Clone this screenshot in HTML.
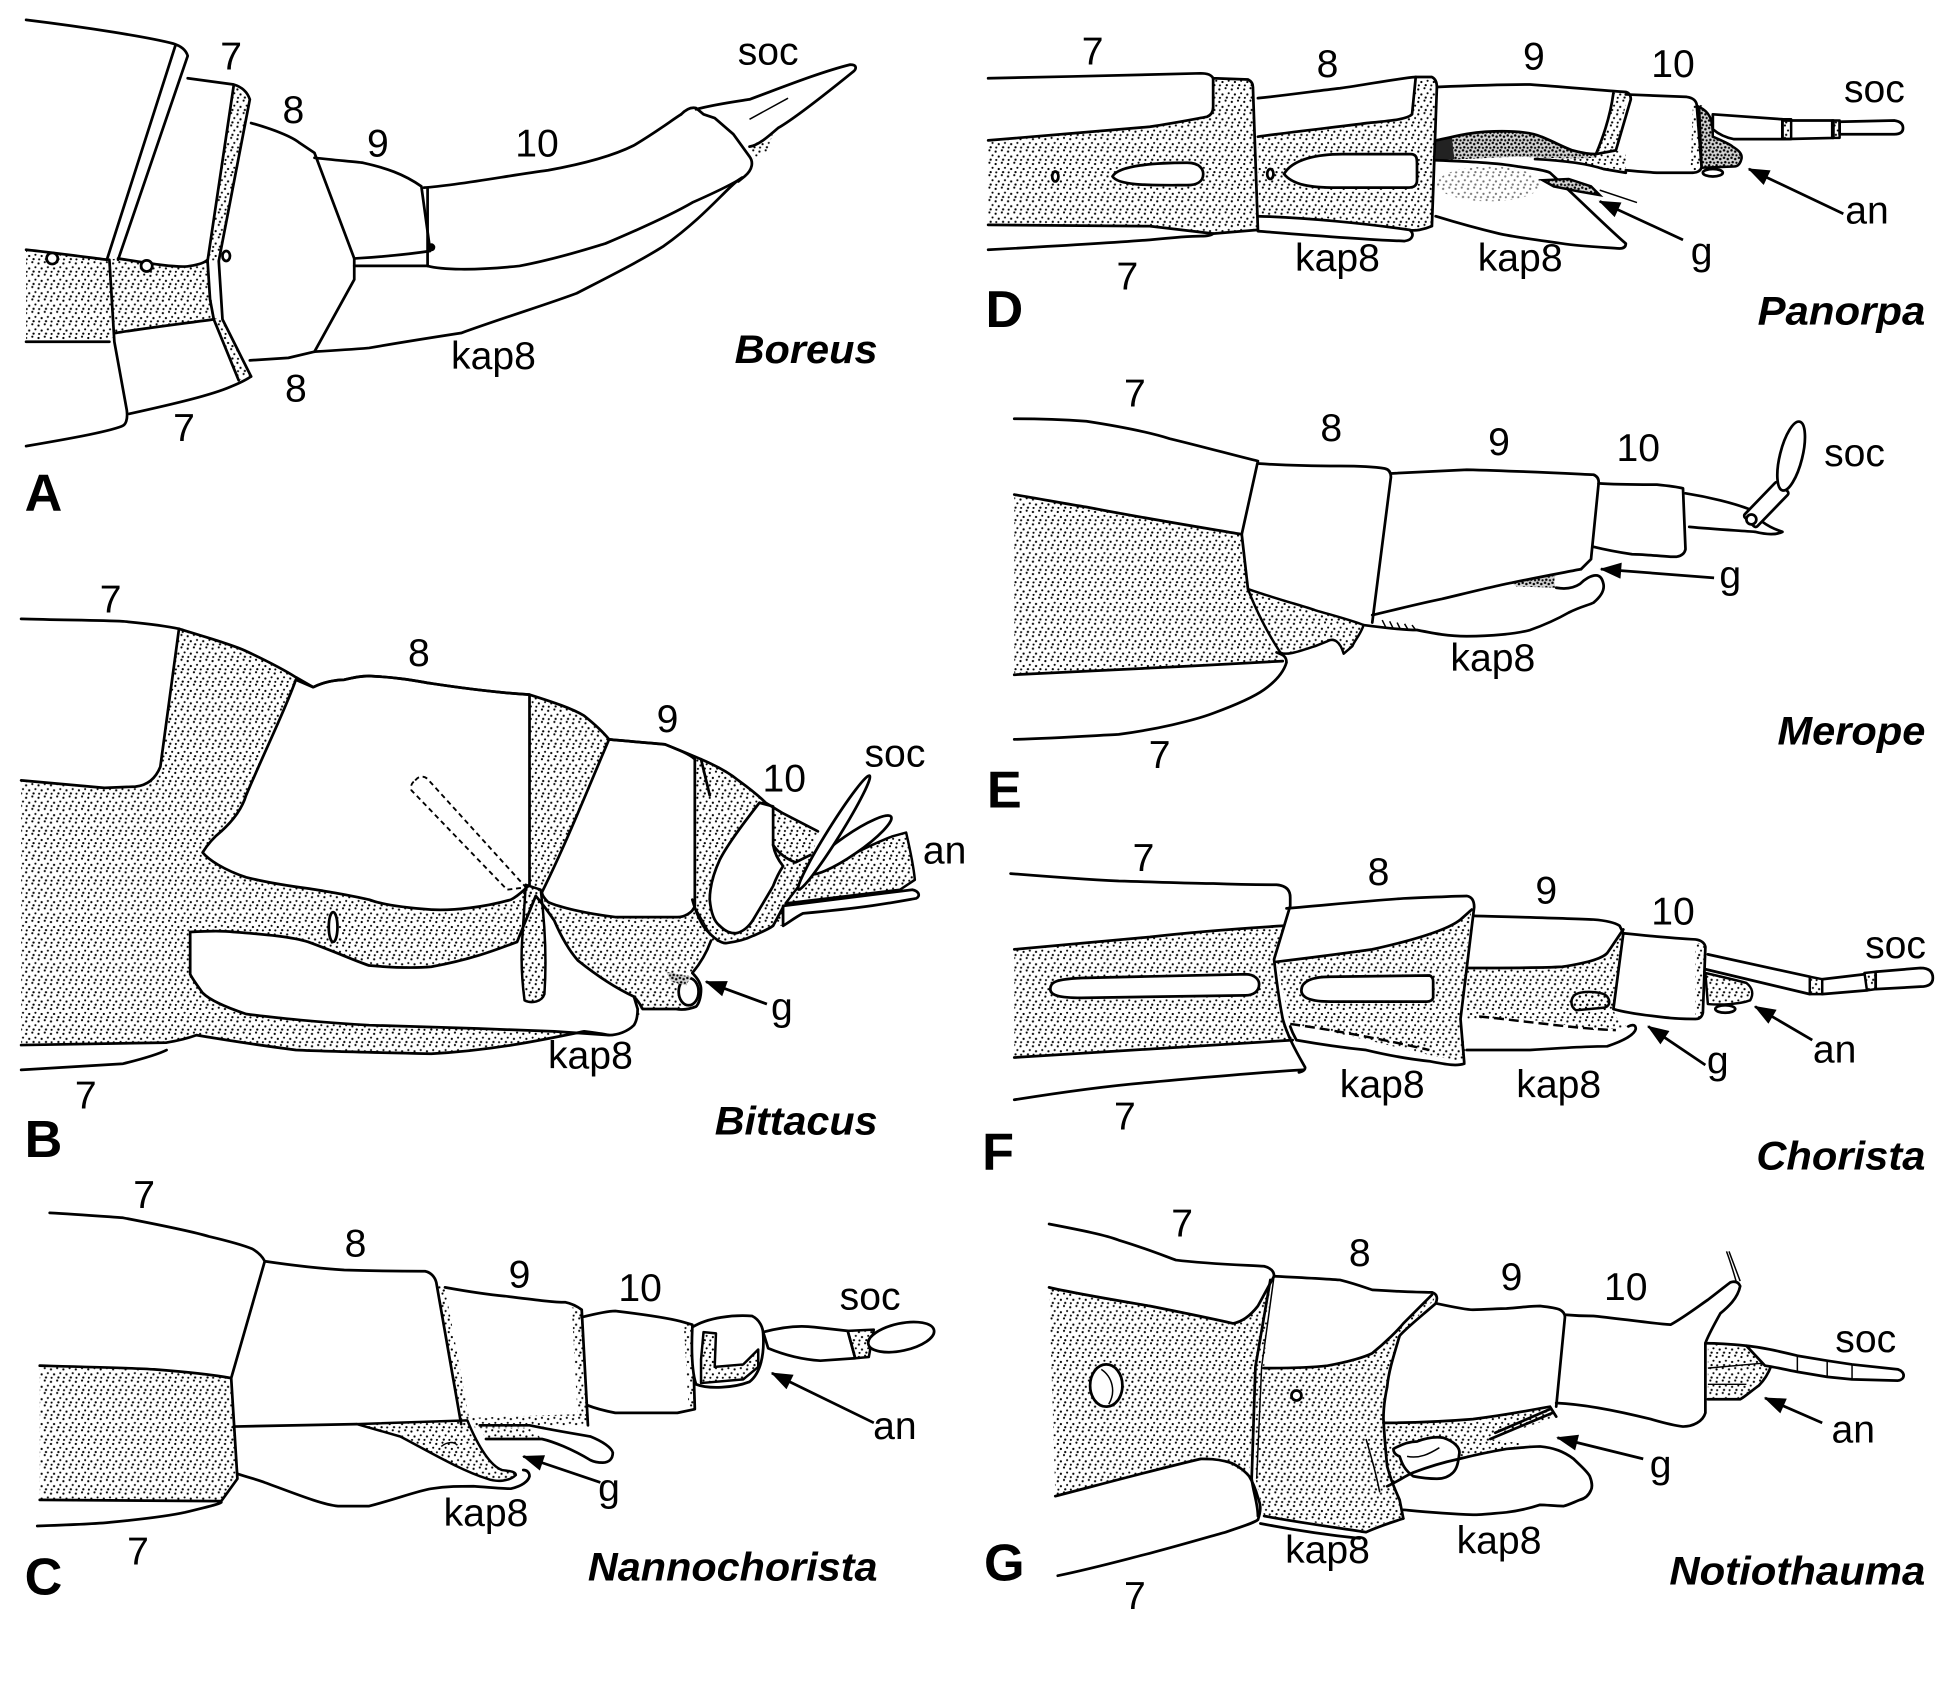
<!DOCTYPE html>
<html><head><meta charset="utf-8"><style>
html,body{margin:0;padding:0;background:#fff}
svg{display:block}
.o{fill:none;stroke:#000;stroke-width:2.2;stroke-linejoin:round;stroke-linecap:round}
.th{fill:none;stroke:#000;stroke-width:1.2}
.w{fill:#fff;stroke:#000;stroke-width:2.2;stroke-linejoin:round}
.wf{fill:#fff}
.s{fill:url(#st)}
.so{fill:url(#st);stroke:#000;stroke-width:2;stroke-linejoin:round}
.d{fill:url(#st2)}
.do{fill:url(#st2);stroke:#000;stroke-width:2}
.ar{stroke:#000;stroke-width:2.2;marker-end:url(#ah)}
text{font-family:"Liberation Sans",Arial,sans-serif;fill:#000}
.t{font-size:31.5px;text-anchor:middle}
.n{font-size:32px;font-weight:bold;font-style:italic;text-anchor:end}
.L{font-size:42px;font-weight:bold;text-anchor:middle}
</style></head><body>
<svg xmlns="http://www.w3.org/2000/svg" width="1949" height="1690" viewBox="0 0 1568 1360" preserveAspectRatio="none">
<defs>
<pattern id="st" width="10" height="10" patternUnits="userSpaceOnUse">
<circle cx="1" cy="2" r=".9"/><circle cx="6" cy="1" r=".85"/><circle cx="3.5" cy="6" r=".9"/><circle cx="8.5" cy="5" r=".85"/><circle cx="1.5" cy="8.7" r=".85"/><circle cx="7" cy="8.5" r=".9"/>
</pattern>
<pattern id="st2" width="6" height="6" patternUnits="userSpaceOnUse">
<rect width="6" height="6" fill="#d4d4d4"/>
<circle cx="1" cy="1" r="1"/><circle cx="4" cy="2" r="1"/><circle cx="2" cy="4.5" r="1"/><circle cx="5" cy="5" r=".9"/>
</pattern>
<marker id="ah" viewBox="0 0 16 12" refX="15" refY="6" markerWidth="18" markerHeight="13" markerUnits="userSpaceOnUse" orient="auto">
<path d="M0,0 L16,6 L0,12 Z"/>
</marker>
</defs>
<rect width="1568" height="1360" fill="#fff"/>

<!-- ================= A : Boreus ================= -->
<g>
<path class="s" d="M21,201 C40,203 70,207 86,209 L95,208 C120,212 145,216 153,214 C160,213 165,211 167,209 L172,257 C150,260 110,265 93,268 L88,275 L21,275 Z"/>
<path class="s" d="M188,68 L201,78 L176,210 L167,210 Z"/>
<path class="s" d="M172,256 L179,257 L202,303 L192,306 Z"/>
<path class="s" d="M603,118 L622,107 L617,122 L606,128 Z"/>
<path class="o" d="M21,16 C70,22 120,30 139,35 Q149,38 151,45 L95,209"/>
<path class="o" d="M141,37 L86,209"/>
<path class="o" d="M88,209 L92,275 L102,330 C103,338 101,342 98,343 C85,348 50,354 21,359"/>
<path class="o" d="M21,201 C40,203 70,207 86,209"/>
<path class="o" d="M95,208 C120,212 145,216 153,214 C160,213 165,211 167,209"/>
<path class="o" d="M21,275 L88,275"/>
<path class="o" d="M93,268 C110,265 150,260 172,257"/>
<path class="o" d="M151,63 L188,68 Q198,71 201,80 L176,210 L179,257 L202,303"/>
<path class="o" d="M188,69 L167,210 L169,241 L172,257 L192,306"/>
<path class="o" d="M104,333 C140,325 170,318 186,311 Q196,307 202,303"/>
<path class="o" d="M201,290 L232,288 L253,283"/>
<path class="o" d="M202,99 C220,104 235,110 241,115 L253,123 L285,208 L285,225 L253,283"/>
<path class="o" d="M253,127 C270,129 285,130 292,131 C310,135 325,140 339,150 L346,201"/>
<path class="o" d="M285,208 C300,207 320,206 346,202"/>
<circle cx="347" cy="199" r="3.2"/>
<path class="o" d="M285,214 L344,214"/>
<path class="o" d="M341,151 C370,149 410,141 441,137 C480,130 500,122 510,117 C530,105 540,97 548,92"/>
<path class="o" d="M344,152 L344,214"/>
<path class="o" d="M344,214 C355,217 380,218 418,214 C450,208 480,198 487,196 C520,182 545,170 557,163 C575,155 590,148 597,143"/>
<path class="o" d="M253,283 C270,282 285,281 297,280 C320,276 345,272 371,268 C410,254 440,245 464,236 C495,220 515,210 534,198 C555,183 570,168 580,158 C588,150 592,146 597,143"/>
<path class="o" d="M548,92 C552,88 556,86 560,87 L566,92 L575,95 L590,108 L603,126 C606,130 606,136 599,142 L594,146"/>
<path class="o" d="M560,88 C575,84 590,82 603,80 C630,70 660,58 684,52 C690,52 689,56 686,58 C665,75 640,95 626,103 C618,110 610,117 603,118"/>
<path class="th" d="M603,96 L634,79"/>
<circle class="w" cx="42" cy="208" r="4.5" stroke-width="1.6"/>
<circle class="w" cx="118" cy="214" r="4.5" stroke-width="1.6"/>
<ellipse class="w" cx="182" cy="206" rx="3" ry="4" stroke-width="1.5"/>
<text class="t" x="186" y="56">7</text>
<text class="t" x="236" y="99">8</text>
<text class="t" x="304" y="126">9</text>
<text class="t" x="432" y="126">10</text>
<text class="t" x="618" y="52">soc</text>
<text class="t" x="397" y="297">kap8</text>
<text class="t" x="238" y="323">8</text>
<text class="t" x="148" y="355">7</text>
<text class="n" x="706" y="292" textLength="115" lengthAdjust="spacingAndGlyphs">Boreus</text>
<text class="L" x="35" y="411">A</text>
</g>

<!-- ================= B : Bittacus ================= -->
<g>
<path class="s" d="M17,628 L84,634 Q105,634 109,633 L129,617 L144,507 C170,514 190,520 198,524 C215,532 230,540 238,545 L252,553 C260,549 270,547 277,547 C285,545 290,544 297,544 C320,545 335,548 347,550 C380,555 410,558 426,559 C445,565 460,570 470,576 C480,584 486,590 490,595 C510,597 525,598 535,599 C545,603 555,607 564,611 C578,617 588,623 594,628 C605,636 612,642 616,646 L629,654 L658,669 L651,702 L632,727 L630,745 L622,745 C618,748 613,750 606,753 C600,756 592,758 584,759 C578,758 574,758 572,757 C568,768 562,777 557,783 C562,788 564,792 564,796 C564,803 562,808 560,810 L544,812 L517,812 L510,825 L490,833 C480,832 475,831 470,830 C440,836 400,845 347,848 C300,847 260,846 238,845 C200,840 170,835 158,833 C150,836 140,838 134,839 L17,841 Z"/>
<path class="wf" d="M17,498 C50,499 80,499 99,500 C120,502 135,504 144,506 L129,617 C125,627 118,632 109,633 L84,634 L17,628 Z"/>
<path class="w" d="M238,547 L252,553 C260,549 270,547 277,547 C285,545 290,544 297,544 C320,545 335,548 347,550 C380,555 410,558 426,559 L426,712 C420,718 415,722 411,724 C390,730 365,733 347,732 C320,730 305,727 297,724 C275,719 260,717 248,715 C225,712 210,709 198,706 C180,700 168,692 163,686 C168,678 173,673 178,669 C188,660 195,650 198,640 C215,600 230,570 238,547 Z"/>
<path class="w" d="M153,750 C170,749 180,749 188,750 C215,752 235,754 248,758 C270,766 285,773 297,777 C320,779 335,779 347,778 C380,772 400,764 416,758 L431,721 C437,728 442,735 446,741 C452,755 458,765 465,773 C480,785 495,795 510,802 L513,812 C513,818 512,822 510,825 C505,830 497,833 490,833 C475,832 460,831 446,830 C400,828 330,826 297,825 C260,823 220,819 198,816 C180,810 168,804 163,799 C158,792 155,788 153,784 Z"/>
<path class="so" d="M423,712 L435,716 C438,740 440,770 438,800 C436,806 428,808 422,805 C420,790 419,775 420,758 Z"/>
<path class="w" d="M490,595 C510,597 525,598 535,599 C545,603 555,607 559,611 L559,729 C557,735 550,738 545,738 L495,738 C470,735 450,730 441,726 C438,723 436,720 436,718 C455,680 475,630 490,595 Z"/>
<path class="w" d="M611,646 C600,660 585,680 579,692 C573,705 571,715 571,724 C572,735 575,742 579,745 C584,750 588,751 592,751 C598,750 603,745 606,740 C612,730 618,720 622,713 C625,705 628,700 630,697 C626,692 623,686 622,680 L622,649 Z"/>
<path class="o" d="M622,680 C626,686 632,691 640,694 L652,688"/>
<path class="so" d="M651,702 C665,697 675,693 683,689 C695,683 705,678 718,673 L729,670 C732,683 735,697 736,708 L724,716 L632,727 Z"/>
<path class="w" d="M630,729 L734,716 C739,717 741,721 737,723 C720,726 700,730 646,735 C640,738 635,742 630,745 Z"/>
<ellipse class="w" cx="684" cy="680" rx="40" ry="8" transform="rotate(-34.7 684 680)"/>
<ellipse class="w" cx="671" cy="670" rx="54" ry="5" transform="rotate(-58 671 670)"/>
<path d="M334,628 C337,624 342,624 345,628 L423,714 L408,716 L331,636 C330,633 331,630 334,628 Z" fill="none" stroke="#000" stroke-width="1.5" stroke-dasharray="4 3"/>
<ellipse class="w" cx="268" cy="746" rx="3.5" ry="12"/>
<path class="o" d="M17,498 C50,499 80,499 99,500 C120,502 135,504 144,506 C170,514 190,520 198,524 C215,532 230,540 238,545 L252,553 C260,549 270,547 277,547 C285,545 290,544 297,544 C320,545 335,548 347,550 C380,555 410,558 426,559 C445,565 460,570 470,576 C480,584 486,590 490,595 C510,597 525,598 535,599 C545,603 555,607 564,611 C578,617 588,623 594,628 C605,636 612,642 616,646 L629,654 L658,669"/>
<path class="o" d="M144,506 L129,617 C125,627 118,632 109,633 L84,634 L17,628"/>
<path class="o" d="M17,841 L134,839 C140,838 150,836 158,833 C170,835 200,840 238,845 C260,846 300,847 347,848 C400,845 440,836 470,830 C478,831 485,832 490,833"/>
<path class="o" d="M17,861 C50,859 85,857 99,856 C115,852 128,848 134,845"/>
<path class="o" d="M557,724 C560,735 565,745 568,748 C574,755 580,759 584,759 C592,758 600,756 606,753 C613,750 618,748 622,745 L630,730"/>
<path class="o" d="M572,757 C568,768 562,777 557,783 C562,788 564,792 564,796 C564,803 562,808 560,810 C555,812 550,813 544,812 L517,812 C515,808 513,805 510,802"/>
<path class="o" d="M564,611 L571,640"/>
<path class="th" d="M558,728 L571,751" stroke-width="2"/>
<ellipse class="w" cx="554" cy="798" rx="8" ry="11"/>
<path class="d" d="M536,782 L556,786 L552,793 L540,790 Z"/>
<line class="ar" x1="617" y1="808" x2="568" y2="790"/>
<text class="t" x="89" y="493">7</text>
<text class="t" x="337" y="536">8</text>
<text class="t" x="537" y="589">9</text>
<text class="t" x="631" y="637">10</text>
<text class="t" x="720" y="617">soc</text>
<text class="t" x="760" y="695">an</text>
<text class="t" x="629" y="821">g</text>
<text class="t" x="475" y="860">kap8</text>
<text class="t" x="69" y="892">7</text>
<text class="L" x="35" y="931">B</text>
<text class="n" x="706" y="913" textLength="131" lengthAdjust="spacingAndGlyphs">Bittacus</text>
</g>

<!-- ================= C : Nannochorista ================= -->
<g>
<path class="s" d="M32,1099 C70,1100 110,1101 124,1102 C150,1104 175,1107 186,1109 L191,1190 L178,1208 L32,1207 Z"/>
<path class="so" d="M287,1146 L376,1143 C385,1165 395,1180 404,1183 C410,1184 415,1184 415,1187 C410,1192 400,1193 392,1190 C370,1183 345,1168 322,1156 Z"/>
<path class="s" d="M351,1032 L358,1036 L378,1144 L371,1146 Z"/>
<path class="s" d="M460,1052 L468,1054 L473,1147 L465,1147 Z"/>
<path class="s" d="M550,1064 L557,1066 L559,1134 L554,1134 Z"/>
<path class="s" d="M378,1141 L465,1138 L466,1147 L382,1149 Z"/>
<path class="s" d="M386,1149 L426,1149 L436,1158 L391,1158 Z"/>
<path class="o" d="M40,976 C60,977 85,979 99,980 C130,986 155,991 168,995 C185,999 198,1003 203,1005 C208,1008 211,1011 213,1015 L186,1109 L191,1190 L178,1208"/>
<path class="o" d="M32,1099 C70,1100 110,1101 124,1102 C150,1104 175,1107 186,1109"/>
<path class="o" d="M32,1207 L178,1208"/>
<path class="o" d="M30,1228 C60,1227 80,1226 89,1225 C120,1222 140,1219 149,1217 C165,1213 175,1211 178,1209"/>
<path class="o" d="M213,1015 C240,1019 260,1021 277,1022 C310,1023 330,1023 342,1023 C347,1024 350,1028 351,1032 L371,1146"/>
<path class="o" d="M188,1148 L287,1146"/>
<path class="o" d="M191,1186 C200,1189 208,1191 213,1193 C240,1203 260,1211 272,1212 L297,1212 C320,1206 335,1200 347,1198 C360,1196 370,1196 381,1196 C395,1197 405,1198 411,1198 C420,1196 425,1192 426,1188 C426,1185 424,1183 421,1183"/>
<path class="o" d="M358,1036 C380,1040 395,1042 406,1043 C430,1046 445,1048 455,1048 C460,1049 464,1051 468,1054 L473,1147"/>
<path class="o" d="M386,1147 L426,1147 C450,1152 470,1155 475,1156 C485,1160 492,1165 493,1169 C493,1174 490,1177 485,1177 C480,1177 477,1176 475,1175 C460,1166 445,1160 436,1158 L391,1158"/>
<path class="o" d="M468,1060 C480,1057 490,1055 495,1055 C520,1058 540,1061 550,1064 L557,1066 L559,1134 L545,1137 L495,1137 C485,1135 478,1133 473,1131"/>
<path class="w" d="M557,1068 C570,1060 590,1058 605,1059 C611,1062 614,1068 614,1074 C615,1090 612,1105 603,1112 C590,1117 570,1118 560,1114 C557,1105 556,1090 557,1068 Z"/>
<path class="so" d="M564,1094 L566,1072 L576,1073 L575,1100 L598,1098 L610,1086 L610,1100 L598,1110 L564,1113 Z"/>
<path class="w" d="M614,1072 C625,1069 640,1066 655,1068 L682,1071 L688,1093 L660,1095 C645,1094 630,1090 618,1085 Z"/>
<path class="so" d="M682,1071 L703,1070 L699,1092 L688,1093 Z"/>
<ellipse class="w" cx="725" cy="1076" rx="27" ry="11" transform="rotate(-12 725 1076)"/>
<path class="th" d="M355,1164 C360,1160 365,1160 368,1163"/>
<line class="ar" x1="703" y1="1145" x2="621" y2="1105"/>
<line class="ar" x1="483" y1="1193" x2="421" y2="1172"/>
<text class="t" x="116" y="972">7</text>
<text class="t" x="286" y="1011">8</text>
<text class="t" x="418" y="1036">9</text>
<text class="t" x="515" y="1047">10</text>
<text class="t" x="700" y="1054">soc</text>
<text class="t" x="720" y="1158">an</text>
<text class="t" x="490" y="1208">g</text>
<text class="t" x="391" y="1228">kap8</text>
<text class="t" x="111" y="1259">7</text>
<text class="L" x="35" y="1283">C</text>
<text class="n" x="706" y="1272" textLength="233" lengthAdjust="spacingAndGlyphs">Nannochorista</text>
</g>

<!-- ================= D : Panorpa ================= -->
<g>
<path class="s" d="M795,113 C840,109 880,106 925,102 C945,99 960,96 971,94 Q976,92 976,86 L976,62 L1004,64 Q1008,66 1008,70 L1012,185 L976,188 L925,182 L795,181 Z"/>
<path class="s" d="M1012,110 C1040,106 1078,102 1100,99 C1120,97 1132,96 1136,92 L1139,62 L1152,62 Q1156,64 1156,70 L1152,182 C1145,185 1138,186 1134,185 C1100,180 1050,175 1012,174 Z"/>
<path class="s" d="M1298,75 L1310,75 L1300,121 L1284,124 C1292,105 1296,90 1298,75 Z"/>
<path class="s" d="M1235,127 L1284,124 L1300,121 L1308,124 L1308,139 L1290,136 C1275,131 1255,129 1235,128 Z"/>
<path class="s" d="M1362,82 L1372,86 L1369,138 L1360,140 Z"/>
<path class="d" d="M1155,113 C1170,110 1180,107 1195,106 C1215,105 1231,106 1240,110 C1250,114 1257,118 1265,121 C1272,123 1278,124 1284,124 L1282,127 C1260,128 1240,127 1221,126 C1200,127 1175,128 1155,129 Z"/>
<path d="M1155,112 L1168,110 L1170,128 L1155,129 Z" fill="#222"/>
<ellipse class="s" cx="1198" cy="148" rx="42" ry="14" opacity=".55"/>
<path class="o" d="M795,63 C850,62 920,60 966,59 C972,59 975,61 976,63 L1004,64 Q1008,66 1008,70 L1012,185"/>
<path class="o" d="M976,63 L976,86 Q976,92 971,94 C960,96 945,99 925,102 C880,106 840,109 795,113"/>
<path class="o" d="M795,181 L925,182 L976,188 L1012,185"/>
<path class="o" d="M795,201 C850,198 900,195 925,193 C945,191 960,190 966,190 C972,190 975,189 976,188"/>
<path class="o" d="M1012,79 C1040,76 1060,73 1078,71 C1100,68 1125,63 1139,62 L1152,62 Q1156,64 1156,70 L1152,182 C1145,185 1138,186 1134,185"/>
<path class="o" d="M1139,62 L1136,92 C1132,96 1120,97 1100,99 C1078,102 1040,106 1012,110"/>
<path class="o" d="M1012,174 C1050,175 1100,180 1134,185 C1138,188 1137,193 1130,194 C1100,193 1050,189 1012,186"/>
<path class="w" d="M895,142 C900,133 930,131 955,131 C966,131 968,137 968,140 C968,146 963,149 955,149 C930,149 900,150 895,142 Z"/>
<path class="w" d="M1033,140 C1040,128 1060,124 1080,124 L1135,124 C1140,124 1140,128 1140,132 L1140,145 C1140,150 1137,151 1132,151 L1075,151 C1055,151 1040,149 1033,140 Z"/>
<ellipse class="w" cx="849" cy="142" rx="2.5" ry="4" stroke-width="1.4"/>
<ellipse class="w" cx="1022" cy="140" rx="2.5" ry="4" stroke-width="1.4"/>
<path class="o" d="M1156,70 C1180,69 1210,68 1231,68 C1260,70 1290,73 1308,74 Q1312,75 1312,80 L1300,121 L1284,124"/>
<path class="o" d="M1298,75 C1296,90 1292,105 1284,124"/>
<path class="o" d="M1155,113 C1170,110 1180,107 1195,106 C1215,105 1231,106 1240,110 C1250,114 1257,118 1265,121 C1272,123 1278,124 1284,124"/>
<path class="o" d="M1235,128 C1255,129 1275,131 1290,136 L1308,139"/>
<path class="o" d="M1155,129 C1180,130 1205,131 1221,134 C1235,136 1243,137 1247,139 C1270,160 1295,185 1308,196 C1308,199 1306,200 1303,200 C1290,199 1270,198 1257,196 C1235,193 1215,190 1206,188 C1185,183 1168,178 1155,174"/>
<path class="do" d="M1241,145 L1262,144 L1280,150 L1287,157 L1270,154 L1250,150 Z" stroke-width="1.2"/>
<path class="th" d="M1287,153 L1317,163"/>
<path class="o" d="M1308,76 L1357,78 Q1364,79 1365,84 L1369,135 Q1367,139 1362,139 L1333,139 Q1318,138 1308,137"/>
<path class="do" d="M1367,86 C1375,90 1378,95 1378,110 C1385,113 1392,116 1394,118 C1399,121 1402,124 1401,128 C1400,132 1398,134 1395,134 L1369,135 Z"/>
<ellipse class="w" cx="1378" cy="139" rx="8" ry="3" stroke-width="1.5"/>
<path class="w" d="M1378,92 L1434,96 L1434,112 L1395,112 Q1385,110 1378,104 Z"/>
<path class="w" d="M1434,97 L1475,97 L1475,111 L1434,112 Z"/>
<path class="w" d="M1480,98 L1524,97 Q1531,98 1531,103 Q1531,108 1524,108 L1480,108 Z"/>
<rect class="so" x="1434" y="96" width="7" height="16" stroke-width="1.2"/>
<rect class="so" x="1474" y="97" width="6" height="14" stroke-width="1.2"/>
<line class="ar" x1="1483" y1="172" x2="1407" y2="136"/>
<line class="ar" x1="1354" y1="193" x2="1287" y2="162"/>
<text class="t" x="879" y="52">7</text>
<text class="t" x="1068" y="62">8</text>
<text class="t" x="1234" y="56">9</text>
<text class="t" x="1346" y="62">10</text>
<text class="t" x="1508" y="82">soc</text>
<text class="t" x="1502" y="180">an</text>
<text class="t" x="1369" y="213">g</text>
<text class="t" x="1076" y="218">kap8</text>
<text class="t" x="1223" y="218">kap8</text>
<text class="t" x="907" y="233">7</text>
<text class="L" x="808" y="263">D</text>
<text class="n" x="1549" y="261" textLength="135" lengthAdjust="spacingAndGlyphs">Panorpa</text>
</g>

<!-- ================= E : Merope ================= -->
<g>
<path class="s" d="M816,398 C840,402 860,406 874,408 C920,417 970,425 999,430 L1004,474 C1010,495 1020,515 1027,525 L1032,532 C960,536 880,540 816,543 Z"/>
<path class="so" d="M1004,474 C1030,483 1050,488 1058,491 C1075,496 1090,500 1097,503 C1095,510 1090,515 1088,520 L1081,526 C1078,516 1073,513 1068,516 L1058,520 C1045,524 1035,528 1030,525 C1020,510 1010,490 1004,474 Z"/>
<path class="d" d="M1216,469 L1252,461 C1250,466 1250,470 1252,473 L1220,472 Z"/>
<path class="o" d="M816,337 C840,337 860,338 874,339 C900,343 925,348 941,353 C970,360 995,367 1012,371 L999,430 L1004,474"/>
<path class="o" d="M816,398 C840,402 860,406 874,408 C920,417 970,425 999,430"/>
<path class="o" d="M816,543 C880,540 960,536 1032,532"/>
<path class="o" d="M816,595 C850,594 880,592 900,591 C930,587 960,580 976,574 C995,567 1010,560 1017,555 C1028,547 1033,540 1035,533 C1035,528 1032,527 1027,525"/>
<path class="o" d="M1012,373 C1040,375 1060,375 1078,375 C1095,375 1108,376 1114,377 Q1119,378 1119,384 L1104,501"/>
<path class="o" d="M1119,381 C1140,380 1160,379 1180,378 C1220,379 1260,381 1282,382 Q1287,384 1286,390 L1280,450 L1272,458"/>
<path class="o" d="M1104,495 C1125,490 1145,485 1160,482 C1185,476 1205,471 1216,469 C1240,464 1262,460 1272,458"/>
<path class="o" d="M1097,503 C1120,506 1130,507 1140,507 C1155,510 1165,512 1180,512 C1200,512 1220,510 1231,507 C1245,502 1255,497 1262,493 C1272,488 1278,487 1282,485 C1288,480 1291,475 1290,470 C1289,465 1287,463 1284,463 C1280,463 1275,466 1271,470 C1265,474 1258,474 1252,473"/>
<path class="th" d="M1112,499 L1115,505 M1118,500 L1121,506 M1124,501 L1127,507 M1130,502 L1133,507 M1136,503 L1139,507"/>
<path class="o" d="M1286,389 C1300,390 1320,390 1333,390 C1343,391 1350,392 1354,393 L1356,442 Q1355,447 1349,448 L1344,448 C1330,447 1320,446 1313,446 C1300,444 1290,442 1282,440"/>
<path class="o" d="M1356,397 C1375,400 1395,405 1408,410"/>
<path class="o" d="M1359,424 C1380,426 1400,427 1412,428 C1420,430 1428,431 1434,428 C1428,426 1422,423 1418,420"/>
<rect class="w" x="-7" y="-19.5" width="14" height="39" rx="2" transform="translate(1421,406) rotate(44)"/>
<ellipse class="w" cx="1441" cy="367" rx="9" ry="28.5" transform="rotate(14 1441 367)"/>
<circle class="w" cx="1409" cy="418" r="4" stroke-width="1.5"/>
<line class="ar" x1="1379" y1="465" x2="1288" y2="458"/>
<text class="t" x="913" y="327">7</text>
<text class="t" x="1071" y="355">8</text>
<text class="t" x="1206" y="366">9</text>
<text class="t" x="1318" y="371">10</text>
<text class="t" x="1492" y="375">soc</text>
<text class="t" x="1392" y="473">g</text>
<text class="t" x="1201" y="540">kap8</text>
<text class="t" x="933" y="618">7</text>
<text class="L" x="808" y="650">E</text>
<text class="n" x="1549" y="599" textLength="119" lengthAdjust="spacingAndGlyphs">Merope</text>
</g>

<!-- ================= F : Chorista ================= -->
<g>
<path class="s" d="M816,764 C860,760 900,756 925,754 C960,750 1000,747 1033,745 L1025,772 C1027,790 1030,810 1032,820 L1040,837 C980,841 900,846 816,851 Z"/>
<path class="s" d="M1027,774 C1060,770 1090,766 1104,764 C1140,756 1165,748 1175,740 L1184,730 L1175,820 L1180,853 C1170,854 1160,851 1150,849 C1120,842 1080,832 1060,828 L1038,824 C1035,810 1030,790 1027,774 Z"/>
<path class="s" d="M1180,779 C1210,779 1240,779 1257,778 C1275,775 1288,772 1293,767 L1305,752 L1298,812 C1300,820 1305,825 1310,826 C1300,828 1290,829 1282,829 C1260,825 1240,821 1221,820 L1180,820 Z"/>
<path class="so" d="M1372,783 C1385,786 1398,789 1405,791 C1410,795 1411,800 1408,805 C1400,808 1385,809 1374,808 Z"/>
<path class="o" d="M813,703 C850,706 880,708 900,709 C940,710 960,711 976,711 C1000,712 1020,712 1027,712 Q1038,713 1038,722 L1038,729 L1025,772 C1027,790 1030,810 1032,820 C1036,835 1045,850 1050,859 Q1050,862 1045,863"/>
<path class="o" d="M816,764 C860,760 900,756 925,754 C960,750 1000,747 1033,745"/>
<path class="o" d="M816,851 C900,846 980,841 1040,837"/>
<path class="o" d="M816,885 C860,878 900,873 925,871 C980,866 1030,862 1048,861"/>
<path class="w" d="M845,796 C845,790 850,788 870,787 L1002,784 C1010,784 1013,789 1013,792 C1013,798 1008,801 1002,801 L870,803 C852,803 845,801 845,796 Z"/>
<path class="o" d="M1035,731 C1070,728 1100,725 1129,723 C1155,722 1170,721 1180,721 Q1186,722 1186,730 L1175,820 L1178,855"/>
<path class="o" d="M1027,774 C1060,770 1090,766 1104,764 C1140,756 1165,748 1175,740 L1184,732"/>
<path d="M1038,824 C1080,830 1120,838 1150,845" fill="none" stroke="#000" stroke-width="2" stroke-dasharray="8 4"/>
<path class="o" d="M1038,826 C1040,832 1042,835 1043,837 C1060,840 1080,843 1099,845 C1120,850 1140,853 1150,854 C1165,857 1172,858 1178,856"/>
<path class="w" d="M1047,797 C1047,790 1055,786 1070,786 L1150,785 Q1153,786 1153,790 L1153,803 Q1152,806 1148,806 L1070,806 C1055,806 1047,803 1047,797 Z"/>
<path class="o" d="M1186,737 C1220,738 1260,739 1282,740 C1295,741 1300,743 1303,745 L1306,751"/>
<path class="o" d="M1180,779 C1210,779 1240,779 1257,778 C1275,775 1288,772 1293,767 C1298,760 1303,752 1306,748"/>
<path d="M1190,818 C1230,822 1270,828 1300,829" fill="none" stroke="#000" stroke-width="2" stroke-dasharray="8 4"/>
<path class="o" d="M1180,845 C1200,845 1220,845 1231,845 C1260,843 1285,842 1293,842 C1305,838 1315,833 1316,828 C1316,825 1314,824 1310,826"/>
<path class="so" d="M1268,800 C1275,797 1290,798 1293,802 C1296,806 1295,810 1290,811 L1268,813 C1263,810 1263,803 1268,800 Z"/>
<path class="w" d="M1306,751 C1325,753 1345,755 1364,756 Q1371,757 1372,762 L1370,815 Q1369,820 1364,820 C1350,820 1340,819 1333,818 C1315,816 1305,814 1298,812 Z"/>
<path class="s" d="M1364,758 L1372,761 L1370,818 L1364,820 Z"/>
<path class="o" d="M1374,768 L1456,786 M1372,780 L1456,800"/>
<path class="so" d="M1456,786 L1466,788 L1466,800 L1456,800 Z" stroke-width="1.5"/>
<path class="o" d="M1466,788 L1500,784 M1466,800 L1502,797"/>
<path class="so" d="M1500,783 L1509,782 L1509,796 L1502,797 Z" stroke-width="1.5"/>
<path class="w" d="M1509,782 L1545,779 Q1555,779 1555,787 Q1555,794 1545,794 L1509,796 Z"/>
<ellipse class="w" cx="1388" cy="812" rx="8" ry="3" stroke-width="1.5"/>
<line class="ar" x1="1458" y1="837" x2="1412" y2="810"/>
<line class="ar" x1="1372" y1="857" x2="1326" y2="826"/>
<text class="t" x="920" y="701">7</text>
<text class="t" x="1109" y="712">8</text>
<text class="t" x="1244" y="727">9</text>
<text class="t" x="1346" y="744">10</text>
<text class="t" x="1525" y="771">soc</text>
<text class="t" x="1476" y="855">an</text>
<text class="t" x="1382" y="864">g</text>
<text class="t" x="1112" y="883">kap8</text>
<text class="t" x="1254" y="883">kap8</text>
<text class="t" x="905" y="909">7</text>
<text class="L" x="803" y="941">F</text>
<text class="n" x="1549" y="941" textLength="136" lengthAdjust="spacingAndGlyphs">Chorista</text>
</g>

<!-- ================= G : Notiothauma ================= -->
<g>
<path class="s" d="M844,1036 C880,1042 910,1048 925,1051 C950,1056 975,1062 992,1065 C1000,1063 1008,1056 1012,1050 L1022,1030 L1010,1100 L1005,1190 C1000,1185 994,1180 986,1177 C978,1174 972,1174 966,1174 C920,1185 880,1196 849,1204 Z"/>
<path class="s" d="M1022,1030 L1017,1101 C1040,1101 1060,1100 1068,1099 C1085,1096 1098,1092 1104,1089 C1115,1080 1125,1070 1129,1065 L1152,1042 Q1157,1044 1150,1050 C1135,1065 1128,1072 1126,1075 C1120,1095 1117,1105 1116,1116 C1113,1130 1113,1138 1113,1142 C1114,1160 1115,1170 1116,1180 C1120,1195 1124,1202 1126,1207 L1129,1222 C1115,1225 1105,1228 1099,1232 C1080,1228 1040,1223 1017,1220 L1010,1190 L1010,1100 Z"/>
<path class="s" d="M1113,1145 C1140,1145 1160,1144 1185,1142 C1210,1139 1230,1135 1247,1132 L1252,1140 C1235,1146 1215,1153 1199,1158 L1239,1164 C1210,1166 1190,1170 1174,1174 C1160,1178 1145,1182 1137,1185 C1128,1189 1120,1193 1116,1196 L1116,1180 C1114,1170 1113,1155 1113,1145 Z"/>
<path class="s" d="M1374,1081 C1385,1081 1395,1082 1405,1083 C1415,1090 1422,1095 1425,1099 C1422,1107 1418,1112 1415,1115 C1408,1120 1404,1124 1400,1126 L1374,1126 Z"/>
<path class="o" d="M844,985 C870,990 890,994 900,998 C920,1004 935,1010 946,1014 C970,1017 1000,1018 1017,1019 Q1025,1021 1025,1027 L1012,1051 C1005,1060 998,1064 992,1065 C970,1060 945,1055 925,1051 C890,1045 860,1040 844,1036"/>
<path class="o" d="M1022,1030 L1010,1100 L1007,1190 C1008,1200 1012,1210 1012,1220"/>
<path class="th" d="M1025,1027 L1015,1100 L1011,1190"/>
<path class="o" d="M849,1204 C880,1196 920,1185 966,1174"/>
<path class="o" d="M851,1268 C880,1262 905,1255 925,1250 C955,1242 975,1236 986,1233 C1000,1228 1008,1226 1012,1223 C1015,1215 1014,1210 1012,1205 C1010,1198 1008,1193 1005,1188 C1000,1182 992,1177 986,1176 C978,1174 972,1174 966,1174"/>
<ellipse class="w" cx="890" cy="1115" rx="13" ry="17"/>
<path class="th" d="M886,1102 C895,1108 898,1120 892,1130"/>
<path class="o" d="M1025,1027 C1045,1028 1065,1029 1078,1030 C1090,1033 1098,1036 1104,1038 C1120,1039 1140,1040 1152,1040 Q1158,1042 1155,1049 C1140,1062 1130,1070 1126,1075 C1120,1095 1117,1105 1116,1116 C1113,1130 1113,1138 1113,1142 C1114,1160 1115,1170 1116,1180 C1120,1195 1124,1202 1126,1207 L1129,1222"/>
<path class="o" d="M1017,1101 C1040,1101 1060,1100 1068,1099 C1085,1096 1098,1092 1104,1089 C1115,1080 1125,1070 1129,1065 L1152,1042"/>
<path class="o" d="M1017,1220 C1050,1226 1080,1230 1099,1233 C1110,1228 1120,1225 1129,1222"/>
<path class="o" d="M1014,1226 C1045,1232 1075,1236 1094,1238"/>
<path class="th" d="M1099,1158 C1104,1175 1108,1190 1110,1201"/>
<circle class="w" cx="1043" cy="1123" r="4" stroke-width="1.5"/>
<path class="o" d="M1156,1049 C1170,1052 1180,1054 1185,1054 C1195,1054 1205,1053 1212,1053 C1225,1052 1232,1051 1239,1051 C1248,1052 1253,1053 1255,1054 Q1259,1056 1259,1060 L1252,1132"/>
<path class="o" d="M1113,1145 C1140,1145 1160,1144 1185,1142 C1210,1139 1230,1135 1247,1132 L1252,1140"/>
<path class="o" d="M1199,1158 L1249,1137 M1203,1153 L1247,1134"/>
<path class="w" d="M1121,1166 C1128,1162 1135,1160 1140,1160 C1148,1157 1155,1156 1161,1157 C1170,1160 1175,1165 1174,1170 C1173,1178 1172,1182 1169,1185 C1165,1189 1160,1190 1156,1190 C1148,1190 1142,1189 1137,1188 C1130,1183 1128,1178 1126,1172 C1123,1171 1121,1169 1121,1166 Z"/>
<path class="th" d="M1132,1172 C1142,1174 1150,1170 1158,1165"/>
<path class="o" d="M1116,1196 C1125,1192 1130,1188 1137,1185 C1150,1180 1160,1177 1174,1174 C1190,1170 1200,1168 1212,1166 C1225,1165 1232,1164 1239,1164 C1250,1165 1258,1168 1266,1174 C1272,1180 1277,1184 1279,1188 C1281,1193 1281,1197 1280,1199 C1278,1204 1275,1206 1271,1207 C1266,1209 1262,1211 1258,1212 C1250,1212 1245,1211 1239,1211 C1230,1214 1220,1216 1212,1217 C1200,1218 1192,1219 1185,1219 C1160,1218 1140,1216 1129,1215"/>
<path class="o" d="M1259,1058 C1270,1059 1278,1059 1282,1059 C1310,1062 1330,1065 1344,1066 C1355,1060 1368,1050 1374,1046 C1382,1040 1388,1035 1392,1032 Q1398,1030 1400,1035 C1398,1045 1390,1052 1384,1057 C1378,1068 1374,1075 1372,1081 L1372,1137 C1370,1144 1362,1148 1354,1148 C1345,1147 1335,1144 1328,1142 C1300,1135 1275,1130 1252,1129"/>
<path class="th" d="M1389,1007 C1392,1015 1395,1025 1397,1032 M1391,1007 L1400,1031"/>
<path class="o" d="M1372,1081 C1385,1081 1395,1082 1405,1083 C1415,1090 1422,1095 1425,1099 C1422,1107 1418,1112 1415,1115 C1408,1120 1404,1124 1400,1126 L1374,1126"/>
<path class="th" d="M1374,1101 L1418,1097 M1374,1114 L1405,1114"/>
<path class="w" d="M1405,1083 C1415,1084 1430,1087 1446,1091 L1470,1095 L1490,1098 L1527,1102 C1533,1104 1533,1110 1527,1111 L1490,1110 L1470,1108 L1446,1104 C1435,1102 1428,1100 1420,1099 Z"/>
<path class="th" d="M1446,1091 L1446,1104 M1470,1095 L1470,1108 M1490,1098 L1490,1110"/>
<line class="ar" x1="1466" y1="1145" x2="1420" y2="1125"/>
<line class="ar" x1="1322" y1="1174" x2="1253" y2="1157"/>
<text class="t" x="951" y="995">7</text>
<text class="t" x="1094" y="1019">8</text>
<text class="t" x="1216" y="1038">9</text>
<text class="t" x="1308" y="1046">10</text>
<text class="t" x="1501" y="1088">soc</text>
<text class="t" x="1491" y="1161">an</text>
<text class="t" x="1336" y="1189">g</text>
<text class="t" x="1068" y="1258">kap8</text>
<text class="t" x="1206" y="1250">kap8</text>
<text class="t" x="913" y="1295">7</text>
<text class="L" x="808" y="1272">G</text>
<text class="n" x="1549" y="1275" textLength="206" lengthAdjust="spacingAndGlyphs">Notiothauma</text>
</g>
</svg>
</body></html>
